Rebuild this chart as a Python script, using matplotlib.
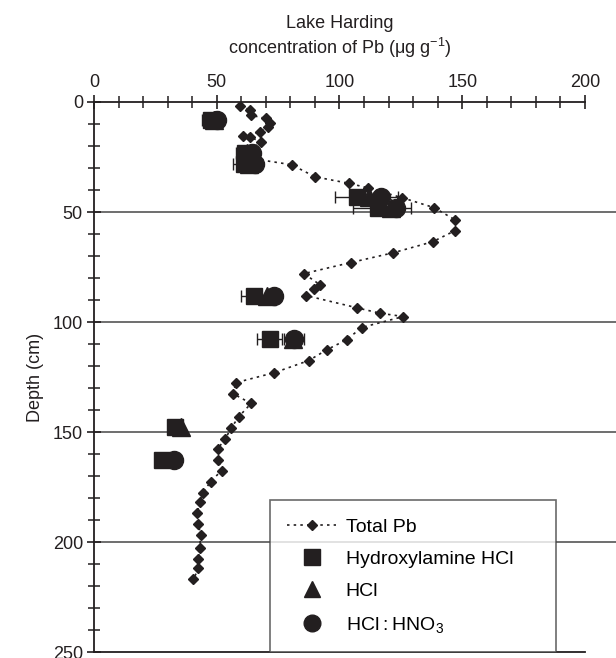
import numpy as np
import matplotlib
matplotlib.use("Agg")
import matplotlib.pyplot as plt
from matplotlib.lines import Line2D

plt.rcParams['font.family'] = ['Liberation Sans', 'DejaVu Sans']
plt.rcParams['mathtext.default'] = 'regular'

# === Total Pb profile (concentration, depth) ===
total_pb = [59.5, 63.5, 64, 70, 71.5, 71, 67.5, 60.5, 63.5, 68, 63, 66, 80.5, 90,
            104, 111.5, 125.5, 138.5, 147, 147, 138, 122, 104.5, 85.5, 92, 89.5,
            86.5, 107, 116.5, 126, 109, 103, 95, 87.5, 73.5, 58, 56.5, 64, 59, 56,
            53.5, 50.5, 50.5, 52, 47.5, 44.5, 43, 42, 42.5, 43.5, 43, 42.5, 42.5, 40.5]
total_depth = [2, 3.5, 6, 7.5, 9.5, 11.5, 13.5, 15.5, 16, 18, 22, 26, 28.5, 34,
               37, 39, 43.5, 48, 53.5, 58.5, 63.5, 68.5, 73, 78, 83, 85,
               88, 93.5, 96, 97.5, 102.5, 108, 112.5, 117.5, 123, 127.5, 132.5, 137, 143, 148,
               153, 157.5, 162.5, 167.5, 172.5, 177.5, 182, 187, 192, 197, 202.5, 207.5, 212, 217]

# === Sequential extractions ===
ext_depth = [8, 23, 28, 43, 48, 88, 107.5, 147.5, 162.5]
hydroxylamine = [47.5, 61.5, 61, 107, 115.5, 65, 71.5, 33, 27.5]
hydroxylamine_err = [3.5, 3.5, 4.5, 9, 10, 5, 5, np.nan, np.nan]
hcl = [49, 62.5, 63, 112, 121, 70.5, 81, 35.5, np.nan]
hcl_err = [np.nan] * 9
hcl_hno3 = [50, 64.5, 65.5, 117, 123, 73.5, 81.5, np.nan, 32.5]
hcl_hno3_err = [np.nan, np.nan, np.nan, 7, 6, np.nan, 4, np.nan, np.nan]

ink = "#231f20"

fig = plt.figure(figsize=(6.16, 6.58), dpi=100)
ax = fig.add_axes([0.1526, 0.009, 0.797, 0.836])

ax.plot(total_pb, total_depth, linestyle=(0, (1.5, 2.5)), color=ink, lw=1.2,
        marker='D', ms=5, zorder=2)

ax.errorbar(hydroxylamine, ext_depth, xerr=hydroxylamine_err, fmt='s', ms=12,
            color=ink, ecolor=ink, elinewidth=1, capsize=4, capthick=1, zorder=3)
ax.errorbar(hcl, ext_depth, xerr=hcl_err, fmt='^', ms=13,
            color=ink, ecolor=ink, elinewidth=1, capsize=4, zorder=3)
ax.errorbar(hcl_hno3, ext_depth, xerr=hcl_hno3_err, fmt='o', ms=13,
            color=ink, ecolor=ink, elinewidth=1, capsize=4, capthick=1, zorder=3)

# horizontal reference lines
for d in [50, 100, 150, 200]:
    ax.axhline(d, xmin=0, xmax=1.07, color="#555555", lw=1.2, clip_on=False, zorder=1)

ax.set_xlim(0, 200)
ax.set_ylim(250, 0)
ax.xaxis.tick_top()
ax.xaxis.set_label_position('top')
ax.set_xticks([0, 50, 100, 150, 200])
ax.set_xticks(np.arange(0, 201, 10), minor=True)
ax.set_yticks([0, 50, 100, 150, 200, 250])
ax.set_yticks(np.arange(0, 251, 10), minor=True)
ax.tick_params(which='major', direction='inout', length=10, width=1.2,
               labelsize=13, color=ink, labelcolor=ink, pad=3)
ax.tick_params(which='minor', direction='inout', length=8, width=1.1, color=ink)

for s in ['top', 'left', 'bottom']:
    ax.spines[s].set_linewidth(1.3)
    ax.spines[s].set_color(ink)
ax.spines['right'].set_visible(False)

ax.set_xlabel("Lake Harding\nconcentration of Pb (\u03bcg g$^{\u22121}$)",
              fontsize=13, color=ink, labelpad=14, linespacing=1.25)
ax.set_ylabel("Depth (cm)", fontsize=13, color=ink, labelpad=6)

handles = [
    Line2D([], [], linestyle=(0, (1.5, 2.5)), color=ink, lw=1.2, marker='D', ms=5),
    Line2D([], [], linestyle='none', marker='s', ms=11, color=ink),
    Line2D([], [], linestyle='none', marker='^', ms=12, color=ink),
    Line2D([], [], linestyle='none', marker='o', ms=12, color=ink),
]
labels = ["Total Pb", "Hydroxylamine HCl", "HCl", "HCl\u2009:\u2009HNO$_3$"]
leg = ax.legend(handles, labels, loc='lower left',
                bbox_to_anchor=(0.358, 0.0, 0.583, 0.289), mode='expand',
                fontsize=14, frameon=True, fancybox=False, handlelength=2.5,
                handletextpad=0.5, labelspacing=0.75, borderpad=0.9,
                borderaxespad=0)
leg.get_frame().set_edgecolor("#444444")
leg.get_frame().set_linewidth(1.2)
leg.set_zorder(5)

plt.savefig("out.png", dpi=100)
